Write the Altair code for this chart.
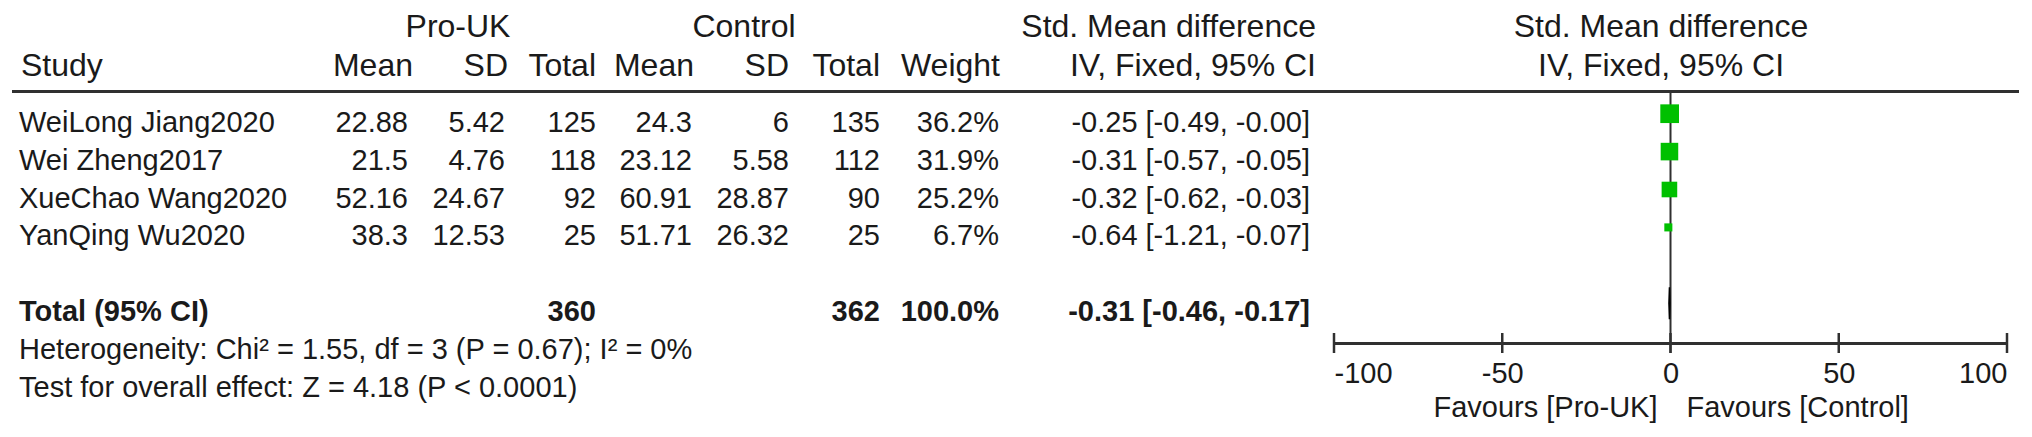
import altair as alt
import pandas as pd

# ---------------- data ----------------
studies = ["WeiLong Jiang2020", "Wei Zheng2017", "XueChao Wang2020", "YanQing Wu2020"]
pro_mean = ["22.88", "21.5", "52.16", "38.3"]
pro_sd = ["5.42", "4.76", "24.67", "12.53"]
pro_total = [125, 118, 92, 25]
ctl_mean = ["24.3", "23.12", "60.91", "51.71"]
ctl_sd = ["6", "5.58", "28.87", "26.32"]
ctl_total = [135, 112, 90, 25]
weight = [36.2, 31.9, 25.2, 6.7]
smd = [-0.25, -0.31, -0.32, -0.64]
ci_lo = [-0.49, -0.57, -0.62, -1.21]
ci_hi = [-0.00, -0.05, -0.03, -0.07]

total_label = "Total (95% CI)"
total_pro = 360
total_ctl = 362
total_weight = 100.0
total_smd = -0.31
total_lo = -0.46
total_hi = -0.17

heterogeneity = "Heterogeneity: Chi\u00b2 = 1.55, df = 3 (P = 0.67); I\u00b2 = 0%"
overall_effect = "Test for overall effect: Z = 4.18 (P < 0.0001)"

group_headers = ["Pro-UK", "Control", "Std. Mean difference", "Std. Mean difference"]
col_headers = ["Study", "Mean", "SD", "Total", "Mean", "SD", "Total", "Weight",
               "IV, Fixed, 95% CI", "IV, Fixed, 95% CI"]
x_ticks = [-100, -50, 0, 50, 100]
favours = ["Favours [Pro-UK]", "Favours [Control]"]

# ---------------- layout (plot-area pixels) ----------------
W, H = 2016, 335
FONT = "Liberation Sans, Arial, Helvetica, sans-serif"
TXT = "#1a1a1a"
LINE = "#303030"
GREEN = "#00c000"
FS = 29
HFS = 32

ROW_SCALE = alt.Scale(domain=[0, 7], range=[123.7, 389.0], zero=False, nice=False)
X_SCALE = alt.Scale(domain=[-100, 100], range=[1326, 1999], zero=False, nice=False)
X_AXIS = alt.Axis(values=x_ticks, ticks=False, tickSize=0, grid=False, domain=True,
                  domainColor=LINE, domainWidth=3, labelFont=FONT, labelFontSize=FS,
                  labelColor=TXT, labelPadding=39, labelBaseline="alphabetic",
                  labelFlush=True, labelOverlap=False, title=None,
                  labelExpr="'' + datum.value")

# column right edges (or left / centre) in plot pixels
C_STUDY = 11
C_PMEAN, C_PSD, C_PTOT = 400, 497, 588
C_CMEAN, C_CSD, C_CTOT = 684, 781, 872
C_WEIGHT = 991
C_CI = 1302
C_CI_HDR = 1308
C_FOREST_HDR = 1653
C_PRO_GRP = 450
C_CTL_GRP = 736
Y_GROUP_HDR = 29
Y_COL_HDR = 68
Y_HLINE = 83.5
Y_FAV = 409

# ---------------- tables ----------------
def fmt_ci(e, lo, hi):
    return f"{e:.2f} [{lo:.2f}, {hi:.2f}]"

study_df = pd.DataFrame({
    "row": list(range(len(studies))),
    "study": studies,
    "pro_mean": pro_mean,
    "pro_sd": pro_sd,
    "pro_total": [str(v) for v in pro_total],
    "ctl_mean": ctl_mean,
    "ctl_sd": ctl_sd,
    "ctl_total": [str(v) for v in ctl_total],
    "weight_txt": [f"{w:.1f}%" for w in weight],
    "ci_txt": [fmt_ci(e, l, h) for e, l, h in zip(smd, ci_lo, ci_hi)],
    "weight": weight,
    "smd": smd,
    "lo": ci_lo,
    "hi": ci_hi,
})

total_df = pd.DataFrame({
    "row": [5],
    "label": [total_label],
    "pro_total": [str(total_pro)],
    "ctl_total": [str(total_ctl)],
    "weight_txt": [f"{total_weight:.1f}%"],
    "ci_txt": [fmt_ci(total_smd, total_lo, total_hi)],
})

notes_df = pd.DataFrame({"row": [6, 7], "text": [heterogeneity, overall_effect]})

diamond_df = pd.DataFrame({
    "x": [total_lo, total_smd, total_hi],
    "top": [0, -1, 0],
    "bot": [0, 1, 0],
})

ticks_df = pd.DataFrame({"x": x_ticks})
zero_df = pd.DataFrame({"x": [0]})

layers = []


def row_text(df, field, xpx, align, bold=False):
    return alt.Chart(df).mark_text(
        align=align, baseline="alphabetic", font=FONT, fontSize=FS,
        fontWeight="bold" if bold else "normal", color=TXT,
    ).encode(
        x=alt.value(xpx),
        y=alt.Y("row:Q", scale=ROW_SCALE, axis=None),
        text=alt.Text(f"{field}:N"),
    )


def fixed_text(txt, xpx, ypx, align, size=HFS):
    return alt.Chart(pd.DataFrame({"t": [txt]})).mark_text(
        align=align, baseline="alphabetic", font=FONT, fontSize=size, color=TXT,
    ).encode(x=alt.value(xpx), y=alt.value(ypx), text="t:N")


# headers
layers.append(fixed_text(group_headers[0], C_PRO_GRP, Y_GROUP_HDR, "center"))
layers.append(fixed_text(group_headers[1], C_CTL_GRP, Y_GROUP_HDR, "center"))
layers.append(fixed_text(group_headers[2], C_CI_HDR, Y_GROUP_HDR, "right"))
layers.append(fixed_text(group_headers[3], C_FOREST_HDR, Y_GROUP_HDR, "center"))

hdr_pos = [(C_STUDY + 2, "left"), (C_PMEAN + 5, "right"), (C_PSD + 3, "right"), (C_PTOT, "right"),
           (C_CMEAN + 2, "right"), (C_CSD, "right"), (C_CTOT, "right"), (C_WEIGHT + 1, "right"),
           (C_CI_HDR, "right"), (C_FOREST_HDR, "center")]
for txt, (xp, al) in zip(col_headers, hdr_pos):
    layers.append(fixed_text(txt, xp, Y_COL_HDR, al))

# header rule
layers.append(alt.Chart(zero_df).mark_rule(color=LINE, strokeWidth=3).encode(
    x=alt.value(4), x2=alt.value(2011), y=alt.value(Y_HLINE)))

# study rows
for field, xp, al in [("study", C_STUDY, "left"), ("pro_mean", C_PMEAN, "right"),
                      ("pro_sd", C_PSD, "right"), ("pro_total", C_PTOT, "right"),
                      ("ctl_mean", C_CMEAN, "right"), ("ctl_sd", C_CSD, "right"),
                      ("ctl_total", C_CTOT, "right"), ("weight_txt", C_WEIGHT, "right"),
                      ("ci_txt", C_CI, "right")]:
    layers.append(row_text(study_df, field, xp, al))

# total row
for field, xp, al in [("label", C_STUDY, "left"), ("pro_total", C_PTOT, "right"),
                      ("ctl_total", C_CTOT, "right"), ("weight_txt", C_WEIGHT, "right"),
                      ("ci_txt", C_CI, "right")]:
    layers.append(row_text(total_df, field, xp, al, bold=True))

# notes
layers.append(row_text(notes_df, "text", C_STUDY, "left"))

# zero line
layers.append(alt.Chart(zero_df).mark_rule(color=LINE, strokeWidth=2).encode(
    x=alt.X("x:Q", scale=X_SCALE, axis=X_AXIS),
    y=alt.value(Y_HLINE), y2=alt.value(345)))

# axis ticks (centred on the axis line)
layers.append(alt.Chart(ticks_df).mark_rule(color=LINE, strokeWidth=2.5).encode(
    x=alt.X("x:Q", scale=X_SCALE, axis=X_AXIS),
    y=alt.value(325), y2=alt.value(345)))

# CI whiskers
layers.append(alt.Chart(study_df).mark_rule(color="black", strokeWidth=1.5, yOffset=-18).encode(
    x=alt.X("lo:Q", scale=X_SCALE, axis=X_AXIS), x2="hi:Q",
    y=alt.Y("row:Q", scale=ROW_SCALE, axis=None)))

# squares
layers.append(alt.Chart(study_df).mark_square(color=GREEN, opacity=1, yOffset=-18).encode(
    x=alt.X("smd:Q", scale=X_SCALE, axis=X_AXIS),
    y=alt.Y("row:Q", scale=ROW_SCALE, axis=None),
    size=alt.Size("weight:Q", scale=alt.Scale(domain=[0, 100], range=[0, 967]), legend=None)))

# diamond for the pooled estimate
layers.append(alt.Chart(diamond_df).mark_area(color="black", stroke="black", strokeWidth=1.5).encode(
    x=alt.X("x:Q", scale=X_SCALE, axis=X_AXIS),
    y=alt.Y("top:Q", scale=alt.Scale(domain=[-1, 1], range=[279.2, 311.2], zero=False, nice=False), axis=None),
    y2="bot:Q"))

# favours labels
fav_df = pd.DataFrame({"x": [0], "t": [favours[0]]})
fav_df2 = pd.DataFrame({"x": [0], "t": [favours[1]]})
layers.append(alt.Chart(fav_df).mark_text(align="right", baseline="alphabetic", font=FONT,
                                          fontSize=FS, color=TXT, dx=-13).encode(
    x=alt.X("x:Q", scale=X_SCALE, axis=X_AXIS), y=alt.value(Y_FAV), text="t:N"))
layers.append(alt.Chart(fav_df2).mark_text(align="left", baseline="alphabetic", font=FONT,
                                           fontSize=FS, color=TXT, dx=16).encode(
    x=alt.X("x:Q", scale=X_SCALE, axis=X_AXIS), y=alt.value(Y_FAV), text="t:N"))

chart = alt.layer(*layers).resolve_scale(y="independent").properties(
    width=W, height=H,
    autosize=alt.AutoSizeParams(type="none"),
    padding={"left": 0, "top": 0, "right": 0, "bottom": 86},
    background="white",
).configure_view(stroke=None)

chart.save("out.html", embed_options={"renderer": "svg", "actions": False})
